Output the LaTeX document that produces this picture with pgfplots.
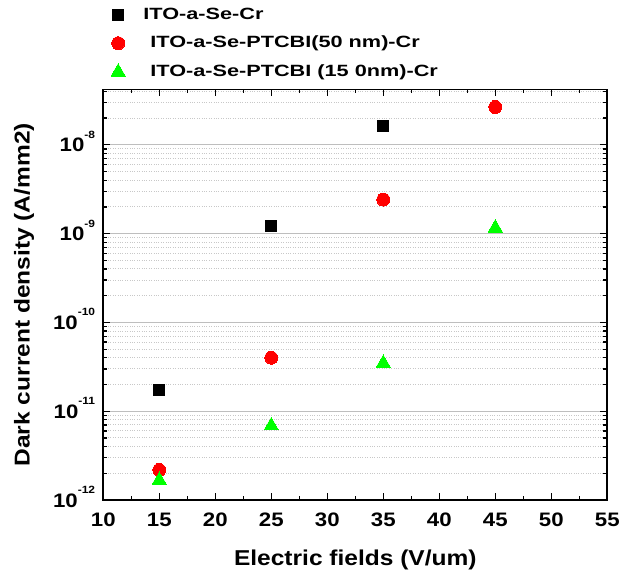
\documentclass[border=0pt]{standalone}
\usepackage{fontspec}
\setmainfont[FakeStretch=1.14]{Liberation Sans}
\newfontfamily\legfont[FakeStretch=1.33]{Liberation Sans}
\usepackage{pgfplots}
\pgfplotsset{compat=1.18}
\definecolor{mygreen}{RGB}{0,255,0}
\definecolor{myred}{RGB}{255,0,0}
\definecolor{majgrid}{RGB}{190,190,190}
\definecolor{mingrid}{RGB}{200,200,200}
\newcommand{\tl}[1]{10\raisebox{13.5pt}{\fontsize{10.5}{11}\selectfont #1}}
\begin{document}
\begin{tikzpicture}
\path[use as bounding box] (-103.3pt,-77pt) rectangle (518.7pt,500pt);
\begin{axis}[
  at={(0pt,0pt)}, anchor=south west,
  scale only axis, width=504pt, height=410.5pt,
  ymode=log, xmin=10, xmax=55, ymin=1e-12, ymax=4.2e-8,
  xtick={10,15,...,55}, minor x tick num=1,
  ytick={1e-12,1e-11,1e-10,1e-9,1e-8},
  yticklabels={\tl{-12},\tl{-11},\tl{-10},\tl{-9},\tl{-8}},
  minor ytick={2e-12,3e-12,4e-12,5e-12,6e-12,7e-12,8e-12,9e-12,
               2e-11,3e-11,4e-11,5e-11,6e-11,7e-11,8e-11,9e-11,
               2e-10,3e-10,4e-10,5e-10,6e-10,7e-10,8e-10,9e-10,
               2e-9,3e-9,4e-9,5e-9,6e-9,7e-9,8e-9,9e-9,
               2e-8,3e-8,4e-8},
  ymajorgrids, yminorgrids,
  major grid style={majgrid, line width=1.3pt},
  minor grid style={mingrid, dotted, line width=1pt},
  tick align=inside,
  major tick length=7pt, minor tick length=4pt,
  every tick/.style={black, line width=1.3pt},
  axis line style={black, line width=1.8pt},
  /pgf/number format/assume math mode=true,
  ticklabel style={font=\fontsize{19.5}{22}\selectfont\bfseries},
  xticklabel style={inner sep=0pt, anchor=north, yshift=-12.7pt},
  yticklabel style={inner sep=0pt, anchor=base east, xshift=-8pt, yshift=-7pt},
  xlabel={Electric fields (V/um)},
  ylabel={Dark current density (A/mm2)},
  every axis x label/.style={at={(axis description cs:0.5,0)}, anchor=base, yshift=-65.7pt, font=\fontsize{21.5}{24}\selectfont\bfseries},
  every axis y label/.style={at={(axis description cs:-0.157,0.5)}, rotate=90, anchor=center, font=\fontsize{21.5}{24}\selectfont\bfseries},
  legend style={draw=none, fill=none, inner sep=0pt, outer sep=0pt,
    at={(axis description cs:0,1)}, anchor=south west, xshift=7.7pt, yshift=10pt,
    row sep=13pt,
    font=\legfont\fontsize{16.3}{18}\selectfont\bfseries,
    nodes={inner sep=0pt, text height=12pt, text depth=3pt}},
  legend cell align=left,
  legend image code/.code={\path (-7pt,0pt) (25pt,0pt); \draw[#1] plot coordinates {(0pt,0pt)};},
]
\addplot[only marks, color=black, mark=square*, mark size=5.5pt, mark options={solid, line width=0pt}]
  coordinates {(15,1.72e-11) (25,1.21e-9) (35,1.61e-8)};
\addlegendentry{ITO-a-Se-Cr}
\addplot[only marks, color=myred, mark=*, mark size=6.5pt, mark options={solid, line width=0pt}]
  coordinates {(15,2.18e-12) (25,4.0e-11) (35,2.42e-9) (45,2.67e-8)};
\addlegendentry{\hspace{7pt}ITO-a-Se-PTCBI(50 nm)-Cr}
\addplot[only marks, color=mygreen, mark=triangle*, mark size=8.3pt, mark options={solid, line width=0pt}]
  coordinates {(15,1.67e-12) (25,6.85e-12) (35,3.47e-11) (45,1.16e-9)};
\addlegendentry{\hspace{7pt}ITO-a-Se-PTCBI (15 0nm)-Cr}
\end{axis}
\end{tikzpicture}
\end{document}
